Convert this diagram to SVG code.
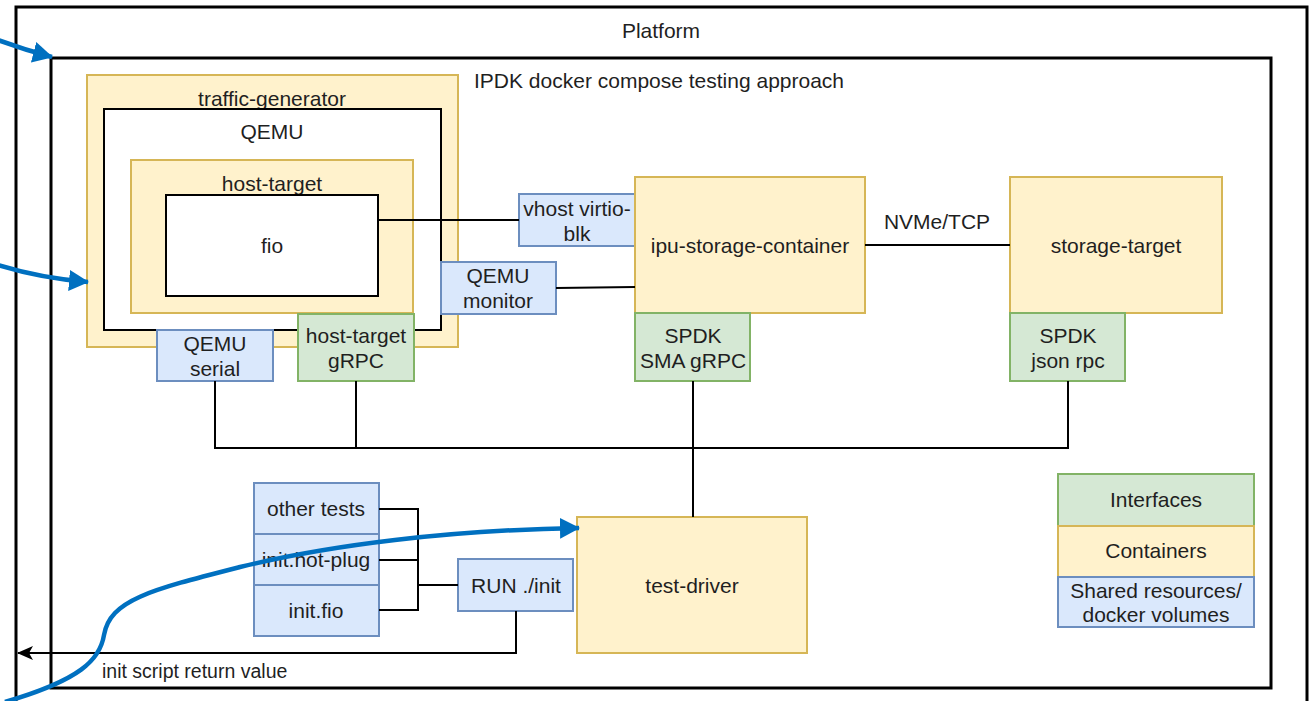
<svg xmlns="http://www.w3.org/2000/svg" width="1313" height="701" viewBox="0 0 1313 701">
<style>
text{font-family:"Liberation Sans",Arial,sans-serif;font-size:21px;fill:#1f1f1f;text-anchor:middle;dominant-baseline:central}
.y{fill:#fff2cc;stroke:#d6b656;stroke-width:2}
.b{fill:#dae8fc;stroke:#6c8ebf;stroke-width:2}
.g{fill:#d5e8d4;stroke:#82b366;stroke-width:2}
.w{fill:#fff;stroke:#000;stroke-width:2}
.frame{fill:none;stroke:#000;stroke-width:3}
.c{fill:none;stroke:#000;stroke-width:2}
.blue{fill:none;stroke:#0070c0;stroke-width:4.5}
</style>
<defs>
<marker id="bh" markerUnits="userSpaceOnUse" viewBox="0 0 20 21" markerWidth="20" markerHeight="21" refX="19" refY="10.5" orient="auto">
<path d="M0,0 L20,10.5 L0,21 z" fill="#0070c0"/>
</marker>
<marker id="ah" markerUnits="userSpaceOnUse" viewBox="0 0 16 16" markerWidth="16" markerHeight="16" refX="15" refY="8" orient="auto">
<path d="M0,1 L16,8 L0,15 L4,8 z" fill="#000"/>
</marker>
</defs>
<rect width="1313" height="701" fill="#fff"/>
<g id="platform">
<rect class="frame" x="16" y="7" width="1291" height="700"/>
<text x="661" y="30">Platform</text>
</g>
<g id="ipdk">
<rect class="frame" x="51" y="58" width="1220" height="630"/>
<text x="474" y="80" style="text-anchor:start">IPDK docker compose testing approach</text>
</g>
<g id="traffic-generator">
<rect class="y" x="87" y="75" width="371" height="272"/>
<text x="272" y="98">traffic-generator</text>
</g>
<g id="qemu">
<rect class="w" x="104" y="109" width="337" height="221"/>
<text x="272" y="131">QEMU</text>
</g>
<g id="host-target">
<rect class="y" x="131" y="160" width="282" height="153"/>
<text x="272" y="183">host-target</text>
</g>
<g id="fio">
<rect class="w" x="166" y="195" width="212" height="101"/>
<text x="272" y="245">fio</text>
</g>
<g id="vhost">
<rect class="b" x="519" y="194" width="116" height="52"/>
<text x="577" y="208">vhost virtio-</text>
<text x="577" y="233">blk</text>
</g>
<g id="qemu-monitor">
<rect class="b" x="441" y="262" width="115" height="52"/>
<text x="498" y="275">QEMU</text>
<text x="498" y="300">monitor</text>
</g>
<g id="ipu-storage-container">
<rect class="y" x="635" y="177" width="230" height="136"/>
<text x="750" y="245">ipu-storage-container</text>
</g>
<g id="spdk-sma">
<rect class="g" x="635" y="313" width="115" height="68"/>
<text x="693" y="335">SPDK</text>
<text x="693" y="360">SMA gRPC</text>
</g>
<g id="storage-target">
<rect class="y" x="1010" y="177" width="212" height="136"/>
<text x="1116" y="245">storage-target</text>
</g>
<g id="spdk-json">
<rect class="g" x="1010" y="313" width="115" height="68"/>
<text x="1068" y="335">SPDK</text>
<text x="1068" y="360">json rpc</text>
</g>
<g id="qemu-serial">
<rect class="b" x="157" y="330" width="116" height="51"/>
<text x="215" y="343">QEMU</text>
<text x="215" y="368">serial</text>
</g>
<g id="host-target-grpc">
<rect class="g" x="298" y="314" width="116" height="67"/>
<text x="356" y="335">host-target</text>
<text x="356" y="360">gRPC</text>
</g>
<g id="test-driver">
<rect class="y" x="577" y="517" width="230" height="136"/>
<text x="692" y="585">test-driver</text>
</g>
<g id="other-tests">
<rect class="b" x="254" y="483" width="125" height="51"/>
<text x="316" y="508">other tests</text>
</g>
<g id="init-hot-plug">
<rect class="b" x="254" y="534" width="125" height="51"/>
<text x="316" y="559">init.hot-plug</text>
</g>
<g id="init-fio">
<rect class="b" x="254" y="585" width="125" height="51"/>
<text x="316" y="610">init.fio</text>
</g>
<g id="run-init">
<rect class="b" x="458" y="559" width="115" height="52"/>
<text x="516" y="585">RUN ./init</text>
</g>
<g id="legend">
<rect class="g" x="1058" y="474" width="196" height="52"/>
<text x="1156" y="499">Interfaces</text>
<rect class="y" x="1058" y="526" width="196" height="51"/>
<text x="1156" y="550">Containers</text>
<rect class="b" x="1058" y="577" width="196" height="50"/>
<text x="1156" y="590">Shared resources/</text>
<text x="1156" y="614">docker volumes</text>
</g>
<g id="connectors">
<path class="c" d="M378,220 H519"/>
<path class="c" d="M556,288 L635,287"/>
<path class="c" d="M865,245 H1010"/>
<text x="937" y="221">NVMe/TCP</text>
<path class="c" d="M215,381 V448 H1068 V381"/>
<path class="c" d="M356,381 V448"/>
<path class="c" d="M693,381 V517"/>
<path class="c" d="M379,509 H418 V610 H379 M379,560 H418 M418,585 H458"/>
<path class="c" d="M516,611 V653 H18" marker-end="url(#ah)"/>
<text x="102" y="671" style="text-anchor:start;font-size:19.5px">init script return value</text>
</g>
<g id="annotations">
<path class="blue" d="M-2,40 Q25,50 52,57" marker-end="url(#bh)"/>
<path class="blue" d="M-2,265 Q40,278 88,282" marker-end="url(#bh)"/>
<path class="blue" d="M5,702 C80,680 100,660 104,635 C110,600 150,590 240,567 C330,545 450,530 579,528" marker-end="url(#bh)"/>
</g>
</svg>
